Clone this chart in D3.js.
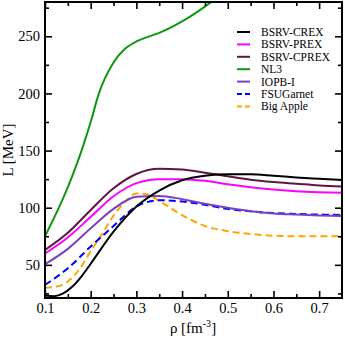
<!DOCTYPE html>
<meta charset="utf-8">
<style>
    body { margin: 0; background: #fff; }
    text { font-family: "Liberation Serif", "DejaVu Serif", serif; }
    .curve { fill: none; stroke-width: 2px; }
</style>
<svg width="345" height="340"></svg>
<script src="https://d3js.org/d3.v7.min.js"></script>
<script>

    // density grid and L values
    var rho_crex = [0.1, 0.12, 0.14, 0.16, 0.18, 0.2, 0.25, 0.3, 0.35, 0.4, 0.45, 0.5, 0.55, 0.6, 0.65, 0.7, 0.75];
    var L_crex   = [23.2, 22.6, 25, 31, 40, 51, 79, 101, 115, 124, 128, 129.3, 129.3, 128, 126.5, 125.3, 124.2];

    var rho_std  = [0.1, 0.15, 0.2, 0.25, 0.3, 0.35, 0.4, 0.45, 0.5, 0.55, 0.6, 0.65, 0.7, 0.75];
    var L_prex   = [60, 74, 92, 110, 121.5, 125, 125, 123.5, 120.5, 118, 116, 114.5, 113.6, 113];
    var L_cprex  = [63, 78, 98, 117, 129.5, 134, 133.5, 130.5, 127.5, 124.5, 122.5, 121, 119.5, 118.5];
    var L_iopb   = [50.6, 64, 82, 99, 109.5, 110.3, 107.5, 103.5, 100, 97, 95, 94, 93.2, 92.7];
    var L_fsu    = [32.5, 47, 66, 84, 101, 106.5, 105.5, 102.5, 99, 96.8, 95.3, 94.5, 94, 93.7];

    var rho_nl3  = [0.1, 0.15, 0.18, 0.2, 0.218, 0.25, 0.275, 0.3, 0.325, 0.35, 0.4, 0.45, 0.5];
    var L_nl3    = [75, 118, 150, 175, 200, 227, 239, 245.5, 249.5, 253, 263, 276, 291];

    var rho_ba   = [0.1, 0.125, 0.15, 0.175, 0.2, 0.225, 0.25, 0.275, 0.3, 0.325, 0.35, 0.4, 0.45, 0.5, 0.55, 0.6, 0.65, 0.7, 0.75];
    var L_ba     = [30, 31, 35.5, 46, 62, 77, 93, 105, 112.5, 111.5, 106, 93.5, 84, 79.5, 77, 75.5, 75, 75, 75.2];

    var names   = ["BSRV-CREX", "BSRV-PREX", "BSRV-CPREX", "NL3", "IOPB-I", "FSUGarnet", "Big Apple"];
    var colors  = ["#000000", "#ff00ff", "#5e1543", "#0d990d", "#7a3fc4", "#0000ff", "#ffa500"];
    var dashed  = [false, false, false, false, false, true, true];

    var x_ticks = [0.1, 0.2, 0.3, 0.4, 0.5, 0.6, 0.7];
    var y_ticks = [50, 100, 150, 200, 250];

    var series = [
        [rho_crex, L_crex], [rho_std, L_prex], [rho_std, L_cprex], [rho_nl3, L_nl3],
        [rho_std, L_iopb], [rho_std, L_fsu], [rho_ba, L_ba]
    ].map(function(s, i) {
        return {
            name: names[i], color: colors[i], dashed: dashed[i],
            values: s[0].map(function(r, j) { return {x: r, y: s[1][j]}; })
        };
    });

    var svg = d3.select("svg");
    var p_left = 45, p_right = 342, p_top = 2, p_bottom = 298;

    var x = d3.scaleLinear().domain([0.1, 0.75]).range([p_left, p_right]);
    var y = d3.scaleLinear().domain([21, 280]).range([p_bottom, p_top]);

    svg.append("clipPath").attr("id", "clip")
        .append("rect").attr("x", p_left).attr("y", p_top)
        .attr("width", p_right - p_left).attr("height", p_bottom - p_top);

    var line = d3.line()
        .x(function(d) { return x(d.x); })
        .y(function(d) { return y(d.y); })
        .curve(d3.curveMonotoneX);

    // draw back to front so black ends up on top like the original
    var order = [3, 6, 5, 4, 2, 1, 0];
    svg.append("g").attr("clip-path", "url(#clip)")
        .selectAll("path")
        .data(order.map(function(i) { return series[i]; }))
        .enter().append("path")
        .attr("class", "curve")
        .attr("stroke", function(d) { return d.color; })
        .attr("stroke-dasharray", function(d) { return d.dashed ? "7,4" : null; })
        .attr("d", function(d) { return line(d.values); });

    // axes with inward ticks on all four sides
    var xMinor = [0.15, 0.25, 0.35, 0.45, 0.55, 0.65];
    var yMinor = [25, 75, 125, 175, 225, 275];

    function inner(axis, ticks, len) {
        return axis.tickValues(ticks).tickSizeInner(-len).tickSizeOuter(0).tickFormat("");
    }

    svg.append("g").attr("transform", "translate(0," + p_bottom + ")")
        .call(d3.axisBottom(x).tickValues(x_ticks).tickSizeInner(-7).tickSizeOuter(0).tickPadding(5).tickFormat(d3.format(".1f")));
    svg.append("g").attr("transform", "translate(0," + p_bottom + ")").call(inner(d3.axisBottom(x), xMinor, 4));
    svg.append("g").attr("transform", "translate(0," + p_top + ")").call(inner(d3.axisTop(x), x_ticks, 7));
    svg.append("g").attr("transform", "translate(0," + p_top + ")").call(inner(d3.axisTop(x), xMinor, 4));

    svg.append("g").attr("transform", "translate(" + p_left + ",0)")
        .call(d3.axisLeft(y).tickValues(y_ticks).tickSizeInner(-7).tickSizeOuter(0).tickPadding(5));
    svg.append("g").attr("transform", "translate(" + p_left + ",0)").call(inner(d3.axisLeft(y), yMinor, 4));
    svg.append("g").attr("transform", "translate(" + p_right + ",0)").call(inner(d3.axisRight(y), y_ticks, 7));
    svg.append("g").attr("transform", "translate(" + p_right + ",0)").call(inner(d3.axisRight(y), yMinor, 4));

    svg.selectAll(".domain").remove();
    svg.selectAll(".tick line").attr("stroke", "#000").attr("stroke-width", 1.6);
    svg.selectAll(".tick text").attr("font-size", 14.5).attr("fill", "#000")
        .style("font-family", "Liberation Serif");

    svg.append("rect")
        .attr("x", p_left).attr("y", p_top)
        .attr("width", p_right - p_left).attr("height", p_bottom - p_top)
        .attr("fill", "none").attr("stroke", "#000").attr("stroke-width", 2);

    // axis titles
    svg.append("text")
        .attr("transform", "translate(13," + ((p_top + p_bottom) / 2) + ") rotate(-90)")
        .attr("text-anchor", "middle").attr("font-size", 15)
        .text("L [MeV]");

    var xl = svg.append("text")
        .attr("x", 193).attr("y", 333)
        .attr("text-anchor", "middle").attr("font-size", 15);
    xl.append("tspan").text("\u03c1 [fm");
    xl.append("tspan").attr("dy", -6).attr("font-size", 10).text("-3");
    xl.append("tspan").attr("dy", 6).text("]");

    // legend
    var legend = svg.append("g").selectAll("g")
        .data(series)
        .enter().append("g")
        .attr("transform", function(d, i) { return "translate(237," + (32 + i * 12.4) + ")"; });

    legend.append("line")
        .attr("x1", 0).attr("x2", 13)
        .attr("stroke", function(d) { return d.color; })
        .attr("stroke-width", 2)
        .attr("stroke-dasharray", function(d) { return d.dashed ? "5,3" : null; });

    legend.append("text")
        .attr("x", 24).attr("dy", "0.35em")
        .attr("font-size", 11.5)
        .text(function(d) { return d.name; });

</script>
